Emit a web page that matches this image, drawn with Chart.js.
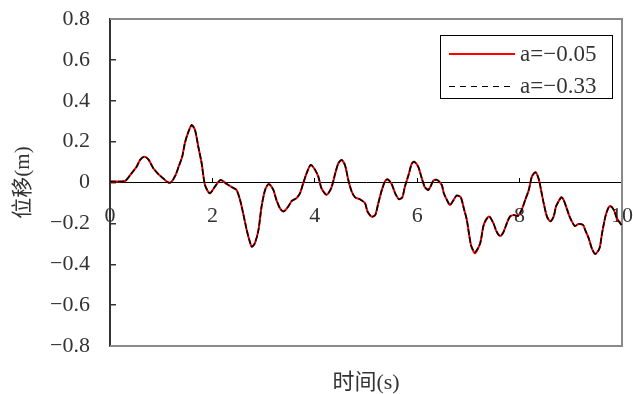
<!DOCTYPE html>
<html>
<head>
<meta charset="utf-8">
<script src="https://cdn.jsdelivr.net/npm/chart.js@4.4.0/dist/chart.umd.min.js"></script>
<style>
  html, body { margin: 0; padding: 0; background: #fff; }
  #wrap { width: 633px; height: 394px; }
</style>
</head>
<body>
<div id="wrap"><canvas id="disp-chart"></canvas></div>
<script>
// time (s) and displacement (m)
const timeS = [0, 0.1, 0.2, 0.3, 0.42, 0.52, 0.585, 0.67, 0.75, 0.846,
  0.94, 1.04, 1.14, 1.2, 1.28, 1.34, 1.41, 1.46, 1.52, 1.595,
  1.66, 1.725, 1.79, 1.855, 1.95, 2.05, 2.16, 2.28, 2.38, 2.47,
  2.54, 2.6, 2.67, 2.72, 2.77, 2.83, 2.9, 2.96, 3.03, 3.1,
  3.19, 3.25, 3.32, 3.39, 3.48, 3.55, 3.64, 3.71, 3.77, 3.84,
  3.92, 4.0, 4.07, 4.13, 4.23, 4.32, 4.4, 4.46, 4.525, 4.59,
  4.655, 4.72, 4.785, 4.88, 4.98, 5.03, 5.11, 5.18, 5.24, 5.31,
  5.37, 5.42, 5.5, 5.57, 5.645, 5.71, 5.76, 5.83, 5.89, 5.94,
  6.02, 6.09, 6.15, 6.22, 6.32, 6.39, 6.48, 6.52, 6.58, 6.64,
  6.705, 6.77, 6.85, 6.91, 6.97, 7.02, 7.06, 7.13, 7.23, 7.29,
  7.34, 7.41, 7.49, 7.55, 7.62, 7.68, 7.75, 7.81, 7.88, 7.97,
  8.04, 8.11, 8.18, 8.24, 8.31, 8.37, 8.425, 8.47, 8.535, 8.6,
  8.665, 8.71, 8.76, 8.815, 8.86, 8.93, 8.99, 9.08, 9.15, 9.24,
  9.28, 9.35, 9.41, 9.48, 9.56, 9.61, 9.675, 9.73, 9.77, 9.84,
  9.9, 9.99]

const dispA = [0.005, 0.005, 0.005, 0.008, 0.045, 0.077, 0.11, 0.126, 0.113, 0.07,
  0.042, 0.02, 0.0, 0.003, 0.036, 0.077, 0.126, 0.19, 0.24, 0.281,
  0.257, 0.175, 0.094, -0.012, -0.053, -0.02, 0.012, -0.007, -0.023, -0.036,
  -0.085, -0.15, -0.232, -0.28, -0.314, -0.297, -0.232, -0.118, -0.036, -0.007,
  -0.036, -0.085, -0.126, -0.142, -0.118, -0.09, -0.077, -0.053, -0.007, 0.045,
  0.086, 0.064, 0.028, -0.028, -0.06, -0.028, 0.045, 0.094, 0.11, 0.085,
  0.012, -0.044, -0.072, -0.082, -0.101, -0.142, -0.167, -0.159, -0.101, -0.036,
  0.005, 0.016, -0.007, -0.053, -0.082, -0.072, -0.02, 0.036, 0.09, 0.102,
  0.077, 0.02, -0.023, -0.036, 0.01, 0.013, -0.012, -0.053, -0.085, -0.11,
  -0.088, -0.064, -0.072, -0.126, -0.184, -0.265, -0.314, -0.346, -0.297, -0.216,
  -0.184, -0.167, -0.2, -0.24, -0.262, -0.245, -0.2, -0.167, -0.159, -0.163,
  -0.134, -0.085, -0.036, 0.029, 0.05, 0.02, -0.044, -0.101, -0.167, -0.19,
  -0.167, -0.118, -0.093, -0.072, -0.085, -0.134, -0.175, -0.213, -0.203, -0.208,
  -0.232, -0.273, -0.322, -0.35, -0.322, -0.249, -0.167, -0.126, -0.115, -0.134,
  -0.175, -0.208]

// the a=-0.33 curve lies right on top of the a=-0.05 one in the picture
const dispB = [0.005, 0.005, 0.005, 0.008, 0.045, 0.077, 0.11, 0.126, 0.113, 0.07,
  0.042, 0.02, 0.0, 0.003, 0.036, 0.077, 0.126, 0.19, 0.24, 0.281,
  0.257, 0.175, 0.094, -0.012, -0.053, -0.02, 0.012, -0.007, -0.023, -0.036,
  -0.085, -0.15, -0.232, -0.28, -0.314, -0.297, -0.232, -0.118, -0.036, -0.007,
  -0.036, -0.085, -0.126, -0.142, -0.118, -0.09, -0.077, -0.053, -0.007, 0.045,
  0.086, 0.064, 0.028, -0.028, -0.06, -0.028, 0.045, 0.094, 0.11, 0.085,
  0.012, -0.044, -0.072, -0.082, -0.101, -0.142, -0.167, -0.159, -0.101, -0.036,
  0.005, 0.016, -0.007, -0.053, -0.082, -0.072, -0.02, 0.036, 0.09, 0.102,
  0.077, 0.02, -0.023, -0.036, 0.01, 0.013, -0.012, -0.053, -0.085, -0.11,
  -0.088, -0.064, -0.072, -0.126, -0.184, -0.265, -0.314, -0.34, -0.297, -0.216,
  -0.184, -0.167, -0.2, -0.24, -0.262, -0.245, -0.2, -0.167, -0.159, -0.163,
  -0.134, -0.085, -0.036, 0.029, 0.05, 0.02, -0.044, -0.101, -0.167, -0.19,
  -0.167, -0.118, -0.093, -0.072, -0.085, -0.134, -0.175, -0.213, -0.203, -0.208,
  -0.232, -0.273, -0.322, -0.35, -0.322, -0.249, -0.167, -0.126, -0.115, -0.134,
  -0.175, -0.208]

const seriesLabels = ['a=\u22120.05', 'a=\u22120.33']
const xTitle = '时间(s)'
const yTitle = '位移(m)'

const FONT = "'Liberation Serif', 'Noto Sans CJK SC', serif"
const textColor = '#333'

function toPoints(ys){
    return timeS.map((t, i) => ({x: t, y: ys[i]}))
}

// grey frame round the plot + legend box in the top right corner
const framePlugin = {
    id: 'frame',
    beforeDatasetsDraw(chart){
        const {ctx, chartArea: a} = chart
        ctx.save()
        ctx.strokeStyle = '#8a8a8a'
        ctx.lineWidth = 2
        ctx.beginPath()
        ctx.moveTo(a.left, a.top)
        ctx.lineTo(a.right, a.top)
        ctx.lineTo(a.right, a.bottom)
        ctx.lineTo(a.left, a.bottom)
        ctx.stroke()
        ctx.restore()
    },
    afterDatasetsDraw(chart){
        const {ctx, chartArea: a} = chart
        const bx = Math.round(a.right - 182), by = Math.round(a.top + 16), bw = 172, bh = 63
        ctx.save()
        ctx.fillStyle = '#fff'
        ctx.fillRect(bx, by, bw, bh)
        ctx.strokeStyle = '#000'
        ctx.lineWidth = 1
        ctx.strokeRect(bx + 0.5, by + 0.5, bw, bh)
        ctx.font = '23px ' + FONT
        ctx.textBaseline = 'middle'
        ctx.fillStyle = textColor
        chart.data.datasets.forEach((ds, i) => {
            const y = by + 19 + i * 32
            ctx.beginPath()
            ctx.strokeStyle = ds.borderColor
            ctx.lineWidth = i === 0 ? 2 : 1
            ctx.setLineDash(i === 0 ? [] : [6, 5])
            const ly = i === 0 ? y : y + 0.5
            ctx.moveTo(bx + 9, ly)
            ctx.lineTo(bx + 75, ly)
            ctx.stroke()
            ctx.setLineDash([])
            ctx.fillText(ds.label, bx + 80, y + 1)
        })
        ctx.restore()
    }
}

const ctx = document.querySelector('#disp-chart')

const myChart = new Chart(ctx, {
    type: 'line',
    data: {
        datasets: [
            {
                label: seriesLabels[0],
                data: toPoints(dispA),
                borderColor: '#ff0000',
                borderWidth: 2,
                pointRadius: 0,
                tension: 0.25,
                order: 2,
            },
            {
                label: seriesLabels[1],
                data: toPoints(dispB),
                borderColor: '#000000',
                borderWidth: 1.6,
                borderDash: [6, 2],
                pointRadius: 0,
                tension: 0.25,
                order: 1,
            }
        ]
    },
    options: {
        animation: false,
        responsive: true,
        maintainAspectRatio: false,
        layout: { padding: { left: 0, right: 11, top: 19, bottom: 0 } },
        plugins: {
            legend: { display: false },
            tooltip: { enabled: false },
        },
        scales: {
            x: {
                type: 'linear',
                min: 0, max: 10,
                position: { y: 0 },
                border: { display: true, color: '#000', width: 1 },
                grid: { drawOnChartArea: false, drawTicks: true, tickLength: -5, color: '#000' },
                ticks: {
                    stepSize: 2, padding: 26, maxRotation: 0,
                    color: textColor, font: { family: FONT, size: 22 },
                },
                afterFit(scale){ scale.paddingLeft = 0; scale.paddingRight = 0 },
            },
            x2: {
                type: 'linear',
                axis: 'x',
                position: 'bottom',
                min: 0, max: 10,
                grid: { display: false, drawTicks: false },
                border: { display: false },
                ticks: { display: false },
                title: {
                    display: true, text: xTitle, color: textColor,
                    font: { family: FONT, size: 22 },
                    padding: { top: 23.6, bottom: -2 },
                },
                afterFit(scale){ scale.paddingLeft = 0; scale.paddingRight = 0 },
            },
            y: {
                min: -0.8, max: 0.8,
                border: { display: true, color: '#333', width: 2 },
                grid: { drawOnChartArea: false, drawTicks: true, tickLength: -6, color: '#333', lineWidth: 1.5 },
                ticks: {
                    stepSize: 0.2, padding: 26,
                    color: textColor, font: { family: FONT, size: 22 },
                    callback: (v) => Math.abs(v) < 1e-9 ? '0' : v.toFixed(1).replace('-', '\u2212'),
                },
                title: {
                    display: true, text: yTitle, color: textColor,
                    font: { family: FONT, size: 21 },
                    padding: { top: 11, bottom: 0 },
                },
                afterFit(scale){
                    scale.width = 110
                    scale.paddingTop = 0
                    scale.paddingBottom = 0
                },
            },
        },
    },
    plugins: [framePlugin],
})
</script>
</body>
</html>
